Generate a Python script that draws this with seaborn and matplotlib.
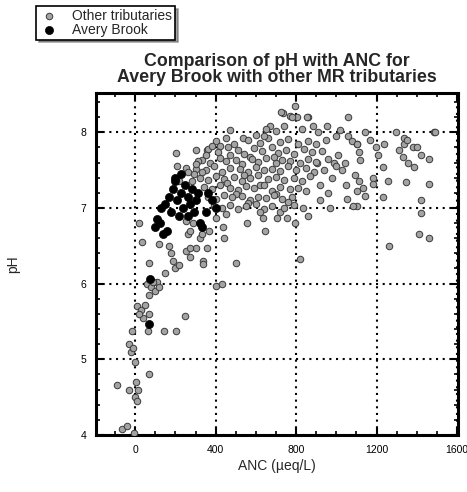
import matplotlib
matplotlib.use("Agg")
import matplotlib.pyplot as plt
from matplotlib.ticker import MultipleLocator
import seaborn as sns
import pandas as pd

# ANC (ueq/L) and pH
anc_other = [
    -65, -40, -5, 5, 15, 0, 10, -90, -30, 70,
    0, -30, -20, -10, -15, 10, 30, 50, 70, 40,
    20, 65, 145, 205, 250, 60, 80, 100, 110, 70,
    90, 120, 20, 35, 70, 120, 150, 170, 180, 190,
    200, 220, 255, 300, 335, 260, 320, 365, 400, 430,
    500, 335, 270, 285, 330, 355, 270, 255, 270, 210,
    205, 300, 355, 255, 220, 645, 555, 435, 440, 635,
    705, 400, 720, 755, 795, 820, 860, 835, 920, 970,
    1105, 1410, 1460, 1260, 1420, 1085, 1420, 1230, 1055, 1145,
    1105, 1460, 1345, 1255, 1185, 1185, 1095, 1115, 1135, 1030,
    1045, 1385, 1230, 1205, 1105, 1115, 1120, 1460, 1420, 1380,
    1310, 1330, 1355, 1335, 1335, 1235, 1485, 1295, 1145, 1170,
    1195, 1020, 1060, 1080, 1105, 1060, 1350, 1400, 1490, 955,
    885, 860, 805, 735, 770, 725, 780, 855, 795, 670,
    470, 535, 600, 650, 700, 740, 830, 910, 1000, 990,
    900, 930, 960, 1000, 940, 980, 920, 960, 1010, 1050, 905, 950,
    400, 450, 490, 560, 620, 660, 720, 760, 810, 860, 420, 640,
    360, 410, 460, 510, 540, 590, 630, 680, 710, 750, 790, 840, 880, 470, 570,
    330, 370, 420, 450, 500, 530, 580, 610, 650, 700, 730, 770, 820, 860, 900, 690,
    300, 350, 390, 430, 470, 520, 560, 600, 640, 680, 720, 760, 800, 850, 890, 540,
    320, 360, 400, 440, 490, 530, 570, 610, 660, 700, 740, 790, 830, 870, 455, 620,
    340, 380, 420, 470, 510, 550, 590, 640, 680, 720, 770, 810, 850, 500, 700,
    360, 400, 440, 480, 530, 570, 610, 650, 690, 730, 780, 560, 760,
    390, 430, 470, 510, 550, 600, 640, 680, 740, 790, 450, 620,
    290, 310, 280, 350, 330, 380, 300, 260,
]
ph_other = [
    4.08, 4.12, 4.02, 4.70, 4.60, 4.50, 4.45, 4.66, 4.60, 4.80,
    4.97, 5.20, 5.10, 5.15, 5.37, 5.70, 5.65, 5.72, 5.60, 5.55,
    5.60, 5.37, 5.37, 5.37, 5.57, 6.00, 5.95, 5.90, 6.02, 5.85,
    6.02, 5.95, 6.80, 6.55, 6.27, 6.52, 6.14, 6.50, 6.40, 6.30,
    6.20, 6.25, 6.43, 6.47, 6.30, 6.65, 6.60, 6.70, 5.97, 6.00,
    6.27, 6.26, 6.47, 6.80, 6.65, 6.47, 6.35, 6.83, 6.70, 7.56,
    7.73, 7.76, 7.76, 7.53, 7.36, 6.70, 6.80, 6.75, 6.60, 6.87,
    6.87, 6.87, 6.95, 6.87, 6.80, 6.33, 6.90, 7.00, 7.10, 7.00,
    7.03, 6.66, 6.60, 6.50, 6.93, 7.03, 7.10, 7.14, 7.12, 7.16,
    7.23, 7.32, 7.34, 7.36, 7.40, 7.32, 7.43, 7.35, 7.27, 7.50,
    7.60, 7.54, 7.54, 7.70, 7.85, 7.74, 7.63, 7.65, 7.70, 7.80,
    7.76, 7.68, 7.60, 7.93, 7.85, 7.85, 8.00, 8.00, 8.00, 7.90,
    7.80, 8.03, 7.95, 7.88, 7.85, 8.20, 7.90, 7.80, 8.00, 8.08,
    8.08, 8.20, 8.20, 8.25, 8.22, 8.27, 8.20, 8.20, 8.35, 8.09,
    8.03, 7.93, 7.97, 8.05, 8.02, 8.08, 8.04, 8.00, 7.95, 7.60,
    7.85, 7.75, 7.65, 7.55, 7.50, 7.40, 7.30, 7.20, 7.70, 7.30, 7.60, 7.90,
    7.88, 7.92, 7.85, 7.90, 7.86, 7.93, 7.87, 7.91, 7.84, 7.89, 7.82, 7.95,
    7.78, 7.74, 7.80, 7.76, 7.72, 7.79, 7.75, 7.81, 7.73, 7.77, 7.72, 7.78, 7.74, 7.70, 7.68,
    7.64, 7.60, 7.66, 7.62, 7.63, 7.58, 7.65, 7.61, 7.66, 7.60, 7.64, 7.62, 7.59, 7.65, 7.61, 7.68,
    7.52, 7.50, 7.55, 7.48, 7.53, 7.51, 7.47, 7.54, 7.50, 7.52, 7.49, 7.55, 7.50, 7.53, 7.48, 7.44,
    7.40, 7.37, 7.42, 7.38, 7.41, 7.36, 7.40, 7.43, 7.38, 7.41, 7.37, 7.40, 7.36, 7.42, 7.33, 7.31,
    7.28, 7.25, 7.30, 7.27, 7.24, 7.29, 7.26, 7.30, 7.23, 7.28, 7.25, 7.27, 7.22, 7.19, 7.18,
    7.15, 7.12, 7.17, 7.14, 7.16, 7.11, 7.15, 7.13, 7.17, 7.12, 7.14, 7.06, 7.08,
    7.03, 7.00, 7.04, 6.98, 7.02, 7.05, 6.99, 7.03, 7.00, 7.04, 6.92, 6.95,
    7.45, 7.62, 7.35, 7.70, 7.48, 7.82, 7.58, 7.47,
]

anc_avery = [150, 170, 190, 200, 210, 230, 240, 250, 260, 270, 280, 290, 300, 310, 180,
             220, 260, 320, 330, 360, 380, 110, 125, 100, 140, 160, 130, 200, 75, 70,
             400, 350, 230]
ph_avery = [7.05, 7.15, 7.25, 7.35, 7.10, 7.20, 7.00, 7.30, 7.15, 7.05, 7.25, 6.95, 7.10, 7.20, 6.95,
            6.90, 6.90, 6.80, 6.75, 7.20, 7.10, 6.85, 6.80, 6.75, 6.65, 6.70, 7.00, 7.40, 6.06, 5.47,
            7.00, 6.95, 7.45]

x_ticks = [0, 400, 800, 1200, 1600]
y_ticks = [4, 5, 6, 7, 8]

other = pd.DataFrame({"ANC": anc_other, "pH": ph_other})
avery = pd.DataFrame({"ANC": anc_avery, "pH": ph_avery})

sns.set_style("ticks")
plt.rcParams["font.family"] = ["Liberation Sans", "DejaVu Sans"]

fig = plt.figure(figsize=(4.67, 4.92), dpi=100)
ax = fig.add_axes([0.2056, 0.116, 0.775, 0.695])

sns.scatterplot(data=other, x="ANC", y="pH", ax=ax, marker="o", s=22,
                color="#a3a3a3", edgecolor="#3a3a3a", linewidth=0.7,
                label="Other tributaries", zorder=3)
sns.scatterplot(data=avery, x="ANC", y="pH", ax=ax, marker="o", s=34,
                color="black", edgecolor="black", linewidth=0.5,
                label="Avery Brook", zorder=4)

ax.set_xlim(-195, 1605)
ax.set_ylim(4, 8.52)
ax.set_xticks(x_ticks)
ax.set_yticks(y_ticks)
ax.xaxis.set_minor_locator(MultipleLocator(100))
ax.yaxis.set_minor_locator(MultipleLocator(0.2))
ax.tick_params(which="both", direction="in", top=True, right=True,
               labelsize=7.5, colors="black")
ax.tick_params(which="major", length=5, width=1.5, pad=7)
ax.tick_params(which="minor", length=3, width=1.2)
ax.grid(True, which="major", color="black", linestyle=(0, (1, 2.2)), linewidth=1.5, zorder=1)
ax.set_axisbelow(True)
for sp in ax.spines.values():
    sp.set_linewidth(2.2)
    sp.set_color("black")

ax.set_title("Comparison of pH with ANC for\nAvery Brook with other MR tributaries",
             fontsize=12.8, fontweight="bold", pad=8, linespacing=0.95)
ax.set_xlabel("ANC (\u00b5eq/L)", fontsize=10)
ax.set_ylabel("pH", fontsize=10)
ax.xaxis.set_label_coords(0.5, -0.07)
ax.yaxis.set_label_coords(-0.21, 0.5)

ax.get_legend().remove()
handles, labels = ax.get_legend_handles_labels()
leg = fig.legend(handles, labels, loc="upper left",
                 bbox_to_anchor=(36 / 467, 1 - 6 / 492), fontsize=10,
                 frameon=True, fancybox=False, shadow=True, borderpad=0.2,
                 labelspacing=0.0, handletextpad=1.0, borderaxespad=0,
                 handlelength=1.4, markerscale=1.0)
leg.get_frame().set_edgecolor("black")
leg.get_frame().set_linewidth(1.2)

fig.savefig("out.png", dpi=100)
